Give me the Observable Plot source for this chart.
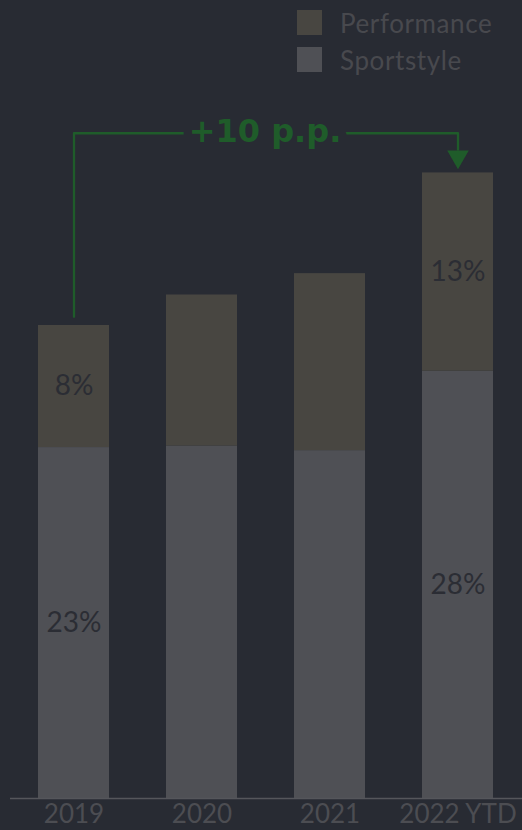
<!DOCTYPE html>
<html>
<head>
<meta charset="utf-8">
<script src="https://cdn.jsdelivr.net/npm/d3@7"></script>
<script src="https://cdn.jsdelivr.net/npm/@observablehq/plot@0.6"></script>
<style>
  html, body { margin: 0; padding: 0; background: #282b33; }
  #wrap { position: relative; width: 522px; height: 830px; overflow: hidden; }
  #legend { position: absolute; left: 297px; top: 10px; font-family: Lato, "Noto Sans", sans-serif; font-size: 26px; letter-spacing: 0.6px; color: #48494e; }
  .item { display: flex; align-items: center; height: 25px; margin-bottom: 12px; }
  .sw { width: 25px; height: 25px; margin-right: 18px; flex: none; }
</style>
</head>
<body>
<div id="wrap">
  <div id="chart"></div>
  <div id="legend"></div>
</div>
<script>
const years = ["2019", "2020", "2021", "2022 YTD"];
const sportstyle = [23.0, 23.1, 22.8, 28.0];
const performance = [8.0, 9.9, 11.6, 13.0];
const sportLabels = ["23%", "", "", "28%"];
const perfLabels = ["8%", "", "", "13%"];
const seriesNames = ["Performance", "Sportstyle"];
const seriesColors = ["#484641", "#4f5055"];
const annotationText = "+10 p.p.";
const annotationFrom = "2019";
const annotationTo = "2022 YTD";

const bg = "#282b33";
const green = "#1f5c2a";

const rows = [];
years.forEach((y, i) => {
  rows.push({year: y, series: "Sportstyle", value: sportstyle[i]});
  rows.push({year: y, series: "Performance", value: performance[i]});
});
const totals = years.map((y, i) => sportstyle[i] + performance[i]);
const iFrom = years.indexOf(annotationFrom), iTo = years.indexOf(annotationTo);
const level = 43.6;     // bracket height in value units
const gap = 0.57;       // space above bar tops
const head = 0.95;      // arrow head length in value units
const bracket = [
  {x: annotationFrom, y: totals[iFrom] + gap},
  {x: annotationFrom, y: level},
  {x: annotationTo, y: level},
  {x: annotationTo, y: totals[iTo] + gap + head}
];

const labelRows = [];
years.forEach((y, i) => {
  labelRows.push({year: y, y: sportstyle[i] / 2, label: sportLabels[i]});
  labelRows.push({year: y, y: sportstyle[i] + performance[i] / 2, label: perfLabels[i]});
});

const chart = Plot.plot({
  width: 522,
  height: 830,
  marginLeft: 10,
  marginRight: 0,
  marginTop: 0,
  marginBottom: 32,
  style: {background: bg, color: "#4f5055", fontFamily: "Lato, 'Noto Sans', sans-serif"},
  x: {domain: years, paddingInner: 0.445, paddingOuter: 0.2225, label: null},
  y: {domain: [0, 52.3], axis: null},
  color: {domain: seriesNames, range: seriesColors},
  marks: [
    Plot.axisX({tickSize: 0, tickPadding: 6, fontSize: 26, fill: "#4c4d52", label: null}),
    Plot.barY(rows, {x: "year", y: "value", fill: "series", order: ["Sportstyle", "Performance"]}),
    Plot.ruleY([0], {stroke: "#55565b", strokeWidth: 1.5}),
    Plot.text(labelRows, {x: "year", y: "y", text: "label", fill: "#2b2d34", fontSize: 28}),
    Plot.line(bracket, {x: "x", y: "y", stroke: green, strokeWidth: 2.3, curve: "linear"}),
    Plot.dot([bracket[3]], {x: "x", y: "y", symbol: "triangle", r: 8, fill: green, stroke: "none", rotate: 180, dy: 7}),
    Plot.text([annotationText], {y: [level], frameAnchor: "middle", dx: -1.5, dy: -1, text: d => d, fill: green, fontSize: 32, fontWeight: "bold", fontFamily: "'DejaVu Sans', sans-serif", stroke: bg, strokeWidth: 17, strokeLinejoin: "round", paintOrder: "stroke"})
  ]
});
document.getElementById("chart").appendChild(chart);

const legend = document.getElementById("legend");
seriesNames.forEach((n, i) => {
  const it = document.createElement("div");
  it.className = "item";
  const sw = document.createElement("div");
  sw.className = "sw";
  sw.style.background = seriesColors[i];
  const t = document.createElement("span");
  t.textContent = n;
  it.appendChild(sw);
  it.appendChild(t);
  legend.appendChild(it);
});
</script>
</body>
</html>
